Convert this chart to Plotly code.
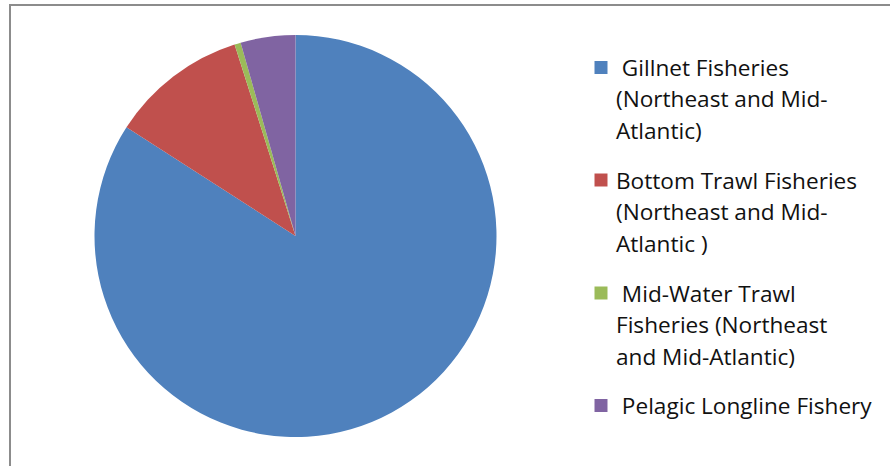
import plotly.graph_objects as go

# Share of bycatch by fishery (percent)
categories = [
    "\u00a0Gillnet Fisheries\n(Northeast and Mid-\nAtlantic)",
    "Bottom Trawl Fisheries\n(Northeast and Mid-\nAtlantic )",
    "\u00a0Mid-Water Trawl\nFisheries (Northeast\nand Mid-Atlantic)",
    "\u00a0Pelagic Longline Fishery",
]
values = [84.1, 11.0, 0.5, 4.4]
colors = ["#4F81BD", "#C0504D", "#9BBB59", "#8064A2"]

W, H = 890, 466


def px_x(x):
    return x / W


def px_y(y):
    return 1 - y / H


# pie placement in pixels (centre and radius)
cx, cy, r = 295.5, 236, 201

fig = go.Figure(
    go.Pie(
        labels=[c.replace("\n", " ") for c in categories],
        values=values,
        sort=False,
        direction="clockwise",
        rotation=0,
        marker=dict(colors=colors, line=dict(width=0)),
        textinfo="none",
        hoverinfo="label+percent",
        showlegend=False,
        domain=dict(x=[px_x(cx - r), px_x(cx + r)], y=[px_y(cy + r), px_y(cy - r)]),
    )
)

shapes = []
annotations = []

# outer chart frame (only top and left edges fall inside the view)
shapes.append(dict(type="rect", xref="paper", yref="paper",
                   x0=px_x(10), x1=px_x(900), y0=px_y(475), y1=px_y(5),
                   line=dict(color="#8c8c8c", width=2), fillcolor="rgba(0,0,0,0)"))

# hand-laid legend: colour swatch plus wrapped label lines
legend_top = [67.5, 180, 293, 405.5]
line_gap = 31.5
sw = 13
for cat, col, y0 in zip(categories, colors, legend_top):
    shapes.append(dict(type="rect", xref="paper", yref="paper",
                       x0=px_x(594.5), x1=px_x(594.5 + sw),
                       y0=px_y(y0 + sw / 2), y1=px_y(y0 - sw / 2),
                       line=dict(width=0), fillcolor=col))
    for i, line in enumerate(cat.split("\n")):
        annotations.append(dict(
            xref="paper", yref="paper", x=px_x(614), y=px_y(y0 + i * line_gap),
            xanchor="left", yanchor="middle", showarrow=False, text=line,
            font=dict(family="Open Sans", size=22.6, color="#111111"),
        ))

fig.update_layout(
    width=W, height=H,
    margin=dict(l=0, r=0, t=0, b=0),
    paper_bgcolor="white",
    plot_bgcolor="white",
    shapes=shapes,
    annotations=annotations,
)

fig.write_html("out.html")
